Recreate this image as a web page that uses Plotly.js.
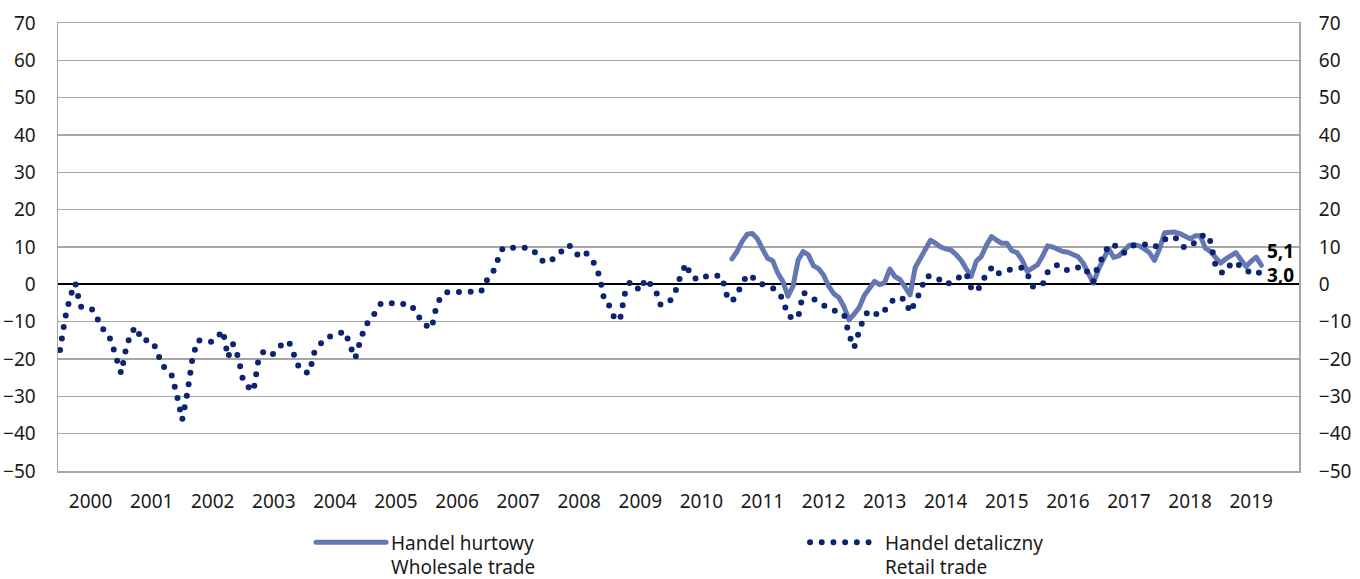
<!DOCTYPE html>
<html>
<head>
<meta charset="utf-8">
<script src="https://cdn.plot.ly/plotly-3.0.1.min.js"></script>
<style>
  html, body { margin: 0; padding: 0; background: #fff; }
  #chart { width: 1360px; height: 579px; }
  path.js-line { stroke-linecap: round; stroke-linejoin: round; }
</style>
</head>
<body>
<div id="chart"></div>
<script>
// Year tick labels (x axis), monthly data starting January 2000
const years = [2000, 2001, 2002, 2003, 2004, 2005, 2006, 2007, 2008, 2009,
               2010, 2011, 2012, 2013, 2014, 2015, 2016, 2017, 2018, 2019];
const firstYear = 2000;

// Handel detaliczny / Retail trade – monthly, from Jan 2000
const retailStartYear = 2000;
const retail = [
  -17.6, -9, -3.3, 0.3, -6, -6.2, -6.3, -7.8, -11.6, -12.5, -15, -19.5,
  -23.8, -17, -12.8, -11.4, -15, -15, -15.1, -17.5, -21.8, -22.5, -24.5, -30,
  -36.3, -29.2, -20, -15, -15, -15, -15.4, -14, -12.4, -19.6, -16, -19.5,
  -26, -27.5, -28.6, -20, -18, -19, -18.6, -17, -15.4, -15.5, -19, -22.5,
  -23.5, -23.7, -18, -16, -14.5, -14, -13.5, -13.2, -12.6, -16.5, -19.8, -15,
  -11, -9.5, -7, -5.2, -4.8, -5, -5.5, -5.5, -5, -5.8, -7, -10.3,
  -11, -11.8, -5.5, -3, -2.1, -2.1, -2.1, -2, -1.8, -2, -2.3, -1.5,
  1.5, 3, 6.6, 9.8, 9.8, 9.6, 9.8, 9.9, 9.6, 9.2, 7, 6.1,
  5.8, 7, 8.7, 9.5, 10.6, 8.5, 7.7, 8.8, 7.5, 5.5, 2.1, -4.8,
  -5.8, -9.4, -9.5, -2.3, 0.7, -0.5, -1.7, 1.5, 0.2, -1.5, -5.6, -5,
  -4.2, -1.5, 2.7, 5.5, 2, 1.5, 1.2, 2.2, 2.5, 2.3, 2.1, -3,
  -4.7, -2.5, 0, 2.6, 2, 0.5, 0, -0.5, -1, -2, -4, -8.5,
  -9, -9, -2.2, -3, -4, -5, -5.6, -6.5, -7, -7.5, -8, -13.5,
  -17, -12.5, -8.5, -7, -7.5, -8.4, -7, -5, -3.6, -3.7, -4, -7.5,
  -5, -2, 2, 2.3, 2.1, 1, -0.1, 0.5, 1.4, 2.2, 3, -1,
  -2, 0, 3, 4.4, 2.6, 3.5, 3.8, 4.1, 4.3, 4.5, 3, -0.6,
  -0.4, -0.2, 3.2, 4.5, 5.3, 4.5, 3.7, 4.2, 4.6, 4.8, 3, 0.8,
  5.5, 7.5, 10.6, 10.6, 9.5, 8.4, 9.5, 10.5, 10.6, 10.7, 10.3, 9.9,
  11, 12, 12.4, 12.7, 11, 9.7, 10.5, 11.2, 12.5, 13.5, 11.5, 5,
  3.2, 3.2, 5.5, 6, 4.6, 4, 2.8, 3.2, 3.0
];

// Handel hurtowy / Wholesale trade – monthly, from Jan 2011
const wholesaleStartYear = 2011;
const wholesale = [
  6.8, 8.8, 11.5, 13.4, 13.6, 12.2, 9.5, 7, 6.3, 3, 0.8, -3.2,
  -0.5, 6.5, 8.8, 7.9, 5, 4.2, 2.5, -0.5, -2.5, -3.5, -6, -9.5,
  -8, -6.2, -3, -1, 0.8, -0.1, 0.5, 4.1, 2.1, 1.3, -0.5, -2.8,
  4.5, 7, 10, 11.8, 11, 10, 9.5, 9.2, 8, 6.5, 4.2, 2.1,
  6.2, 7.5, 10.5, 12.8, 11.8, 11, 11, 9, 8.5, 6.5, 3.5, 4.5,
  5.2, 7.5, 10.3, 10, 9.3, 8.8, 8.6, 8, 7.4, 5.7, 2.6, 0.3,
  4, 6.5, 9.5, 7.2, 7.6, 9, 10.4, 10.6, 10.3, 9.5, 8.5, 6.4,
  9.5, 13.8, 13.9, 14, 13.6, 12.8, 12.2, 13, 13, 9.7, 8.8, 7.2,
  5.7, 6.8, 7.7, 8.5, 6.6, 4.8, 6.2, 7.3, 5.1
];

const seriesNames = ['Handel hurtowy<br>Wholesale trade', 'Handel detaliczny<br>Retail trade'];
const yTicks = [-50, -40, -30, -20, -10, 0, 10, 20, 30, 40, 50, 60, 70];

// month index helpers (0 = Jan 2000)
const retailX = retail.map((_, i) => (retailStartYear - firstYear) * 12 + i);
const wholesaleX = wholesale.map((_, i) => (wholesaleStartYear - firstYear) * 12 + i);
const yearTickVals = years.map(y => (y - firstYear) * 12 + 6);

const fmt = v => v.toFixed(1).replace('.', ',');

const FONT = '"Noto Sans", "Open Sans", sans-serif';
const GRID = '#a6a6a6';

const traces = [
  {
    x: wholesaleX, y: wholesale, type: 'scatter', mode: 'lines',
    name: seriesNames[0], yaxis: 'y',
    line: { color: '#6577b3', width: 5 },
    hoverinfo: 'skip'
  },
  {
    x: retailX, y: retail, type: 'scatter', mode: 'lines',
    name: seriesNames[1], yaxis: 'y2',
    line: { color: '#0b2371', width: 6, dash: '0px,11.7px' },
    hoverinfo: 'skip'
  }
];

const lastW = wholesale[wholesale.length - 1];
const lastR = retail[retail.length - 1];

const layout = {
  width: 1360, height: 579,
  margin: { l: 58, r: 61, t: 23, b: 108, autoexpand: false },
  paper_bgcolor: '#ffffff', plot_bgcolor: '#ffffff',
  font: { family: FONT, size: 19, color: '#1a1a1a' },
  showlegend: true,
  legend: {
    orientation: 'h', x: 0.2039, xanchor: 'left', y: -0.117, yanchor: 'top',
    itemwidth: 70, entrywidth: 409, valign: 'top',
    font: { family: FONT, size: 19, color: '#1a1a1a' },
    bgcolor: 'rgba(0,0,0,0)', traceorder: 'normal'
  },
  xaxis: {
    range: [-0.4, 243.4], showgrid: false, zeroline: false,
    tickmode: 'array', tickvals: yearTickVals, ticktext: years.map(String),
    ticks: 'outside', ticklen: 13, tickcolor: 'rgba(0,0,0,0)',
    showline: true, linecolor: GRID, linewidth: 1.5, mirror: true,
    tickfont: { family: FONT, size: 19, color: '#1a1a1a' }
  },
  yaxis: {
    range: [-50, 70], tickmode: 'array', tickvals: yTicks,
    showgrid: true, gridcolor: GRID, gridwidth: 1.5,
    zeroline: true, zerolinecolor: '#000000', zerolinewidth: 2,
    ticks: 'outside', ticklen: 17, tickcolor: 'rgba(0,0,0,0)',
    showline: true, linecolor: GRID, linewidth: 1.5, mirror: true,
    tickfont: { family: FONT, size: 19, color: '#1a1a1a' }
  },
  yaxis2: {
    range: [-50, 70], tickmode: 'array', tickvals: yTicks,
    overlaying: 'y', side: 'right', showgrid: false, zeroline: false,
    ticks: 'outside', ticklen: 15, tickcolor: 'rgba(0,0,0,0)',
    showline: false,
    tickfont: { family: FONT, size: 19, color: '#1a1a1a' }
  },
  annotations: [
    {
      x: wholesaleX[wholesaleX.length - 1], y: lastW, xref: 'x', yref: 'y',
      text: '<b>' + fmt(lastW) + '</b>', showarrow: false,
      xanchor: 'left', yanchor: 'middle', xshift: 4, yshift: 14,
      font: { family: FONT, size: 19, color: '#000000' }
    },
    {
      x: retailX[retailX.length - 1], y: lastR, xref: 'x', yref: 'y',
      text: '<b>' + fmt(lastR) + '</b>', showarrow: false,
      xanchor: 'left', yanchor: 'middle', xshift: 4, yshift: -2,
      font: { family: FONT, size: 19, color: '#000000' }
    }
  ]
};

Plotly.newPlot('chart', traces, layout, { displayModeBar: false, staticPlot: true });
</script>
</body>
</html>
